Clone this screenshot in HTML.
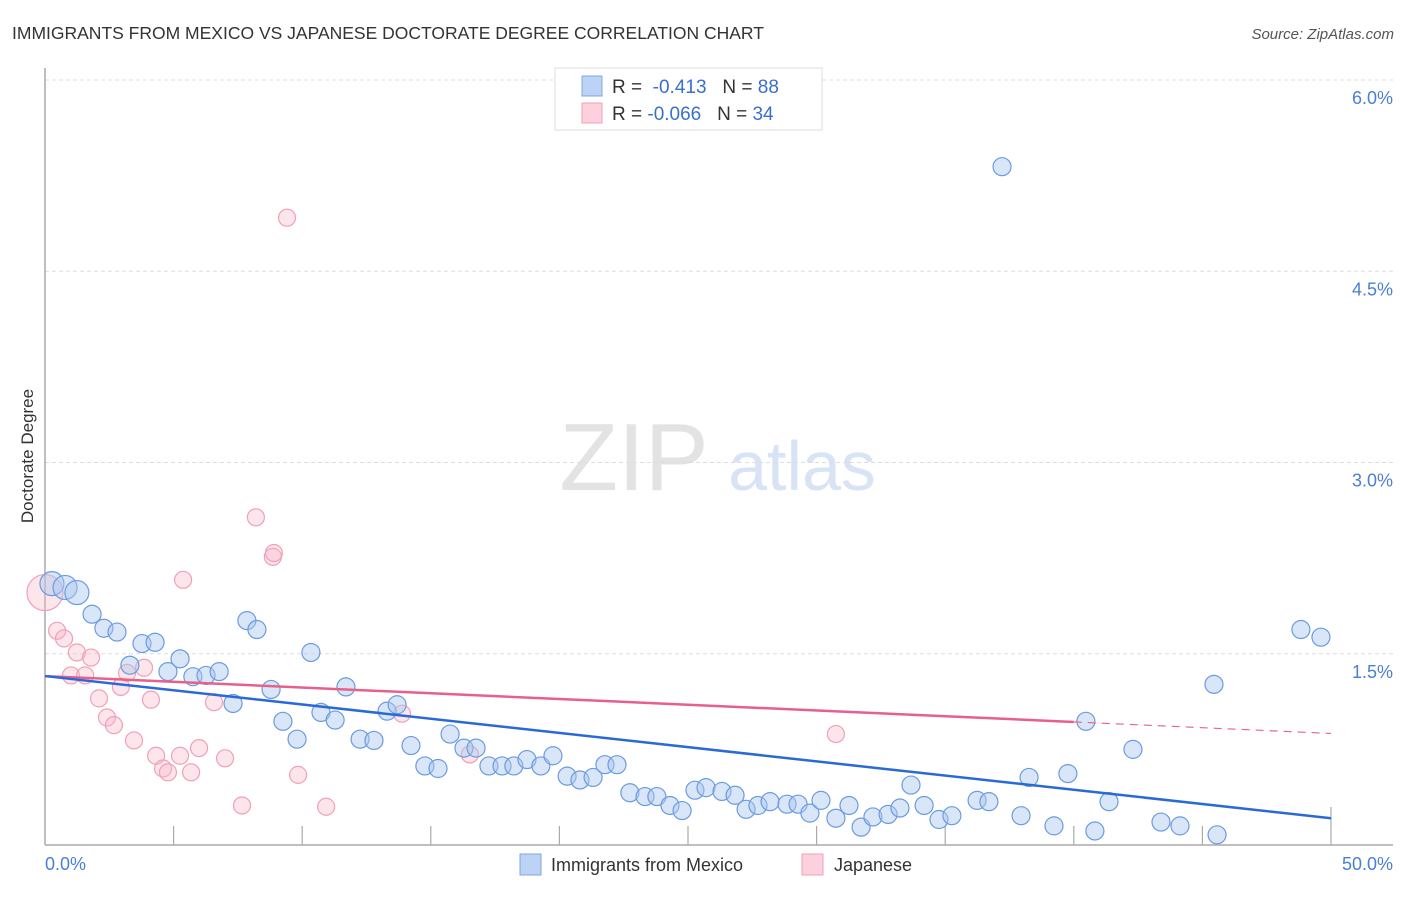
<!DOCTYPE html>
<html><head><meta charset="utf-8"><style>
body{margin:0;background:#fff;font-family:"Liberation Sans",sans-serif;}
svg text{font-family:"Liberation Sans",sans-serif;}
</style></head><body>
<svg id="chart" width="1406" height="892" xmlns="http://www.w3.org/2000/svg">
<text x="12" y="39" font-size="17.5" fill="#333">IMMIGRANTS FROM MEXICO VS JAPANESE DOCTORATE DEGREE CORRELATION CHART</text>
<text x="1394" y="39" font-size="15" fill="#555" font-style="italic" text-anchor="end">Source: ZipAtlas.com</text>
<g>
<text x="634" y="490" font-size="96" fill="#e3e3e3" font-family="Liberation Serif, serif" text-anchor="middle">ZIP</text>
<text x="802" y="490" font-size="70" fill="#d8e4f6" text-anchor="middle">atlas</text>
</g>
<g id="grid"></g>
<g id="axes"></g>
<g id="pink"></g>
<g id="blue"></g>
<g id="trends"></g>
<text transform="translate(33,456) rotate(-90)" font-size="17" fill="#333" text-anchor="middle">Doctorate Degree</text>
<g>
<rect x="555" y="68" width="267" height="62" fill="#fff" stroke="#ddd"/>
<rect x="582" y="76" width="20" height="20" fill="#bcd3f5" stroke="#7fa6e0"/>
<rect x="582" y="103" width="20" height="20" fill="#fcd0dc" stroke="#eea1b7"/>
<text x="612" y="93" font-size="19" fill="#333">R = <tspan fill="#3a6fd0">&#160;-0.413</tspan>&#160;&#160;&#160;N = <tspan fill="#3a6fd0">88</tspan></text>
<text x="612" y="120" font-size="19" fill="#333">R = <tspan fill="#3a6fd0">-0.066</tspan>&#160;&#160;&#160;N = <tspan fill="#3a6fd0">34</tspan></text>
</g>
<g>
<rect x="520" y="854" width="21" height="21" fill="#bcd3f5" stroke="#7fa6e0"/>
<text x="551" y="871" font-size="18" fill="#333">Immigrants from Mexico</text>
<rect x="802" y="854" width="21" height="21" fill="#fcd0dc" stroke="#eea1b7"/>
<text x="834" y="871" font-size="18" fill="#333">Japanese</text>
</g>
</svg>
<script>
const blueX=[0.27,0.78,1.24,1.83,2.29,2.80,3.77,4.28,3.30,4.78,5.25,5.75,6.26,6.77,7.31,7.85,8.24,8.79,9.25,9.80,10.34,10.73,11.28,11.70,12.25,12.79,13.30,13.69,14.23,14.77,15.28,15.75,16.29,16.76,17.26,17.77,18.23,18.74,19.28,19.75,20.30,20.80,21.31,21.77,22.24,22.74,23.33,23.79,24.30,24.77,25.27,25.70,26.32,26.83,27.26,27.72,28.19,28.85,29.28,29.74,30.17,30.75,31.26,31.73,32.19,32.78,33.24,33.67,34.18,34.76,35.26,36.24,36.70,37.21,37.95,38.26,39.23,39.77,40.47,40.82,41.37,42.30,43.39,44.13,45.45,45.57,48.83,49.61];
const blueY=[2.05,2.02,1.98,1.81,1.70,1.67,1.58,1.59,1.41,1.36,1.46,1.32,1.33,1.36,1.11,1.76,1.69,1.22,0.97,0.83,1.51,1.04,0.98,1.24,0.83,0.82,1.05,1.10,0.78,0.62,0.60,0.87,0.76,0.76,0.62,0.62,0.62,0.67,0.62,0.70,0.54,0.51,0.53,0.63,0.63,0.41,0.38,0.38,0.31,0.27,0.43,0.45,0.42,0.39,0.28,0.31,0.34,0.32,0.32,0.25,0.35,0.21,0.31,0.14,0.22,0.24,0.29,0.47,0.31,0.20,0.23,0.35,0.34,5.32,0.23,0.53,0.15,0.56,0.97,0.11,0.34,0.75,0.18,0.15,1.26,0.08,1.69,1.63];
const pinkX=[0.0,0.47,0.74,1.01,1.24,1.56,1.79,2.10,2.41,2.68,2.95,3.19,3.46,3.85,4.12,4.32,4.59,4.78,5.25,5.37,5.68,5.99,6.57,7.00,7.66,8.20,8.86,8.90,9.41,9.84,10.93,13.88,16.52,30.75];
const pinkY=[1.98,1.68,1.62,1.33,1.51,1.33,1.47,1.15,1.00,0.94,1.24,1.35,0.82,1.39,1.14,0.70,0.60,0.57,0.70,2.08,0.57,0.76,1.12,0.68,0.31,2.57,2.26,2.29,4.92,0.55,0.30,1.03,0.71,0.87];
const blueTrend=[1.325,0.21];   // value at 0% and 50%
const pinkTrend=[1.325,0.965];  // value at 0% and 40% (solid end)
const yTicks=[1.5,3.0,4.5,6.0];
const yTickLabels=["1.5%","3.0%","4.5%","6.0%"];
const xTicks=[5,10,15,20,25,30,35,40,45,50];
const xLabels=["0.0%","50.0%"];

const NS="http://www.w3.org/2000/svg";
const sx=v=>45+v*25.72;
const sy=v=>845-v*127.5;
function mk(tag,attrs,parent){const e=document.createElementNS(NS,tag);for(const k in attrs)e.setAttribute(k,attrs[k]);parent.appendChild(e);return e;}
const grid=document.getElementById('grid'),axes=document.getElementById('axes');
yTicks.forEach((t,i)=>{
  const l=mk('line',{x1:45,x2:1393,y1:sy(t),y2:sy(t),stroke:'#ddd','stroke-dasharray':'4,3'},grid);
  
  
  const tx=mk('text',{x:1393,y:sy(t)+24,'font-size':18,fill:'#4a7fd6','text-anchor':'end'},grid);
  tx.textContent=yTickLabels[i];
  
  
});
let a=mk('line',{x1:45,x2:45,y1:68,y2:845,stroke:'#aaa','stroke-width':1.5},axes);


a=mk('line',{x1:45,x2:1393,y1:845,y2:845,stroke:'#aaa','stroke-width':1.5},axes);


xTicks.forEach(t=>{
  const l=mk('line',{x1:sx(t),x2:sx(t),y1:t===50?807:826,y2:845,stroke:'#aaa','stroke-width':1.2},axes);
  
  
});
let xl=mk('text',{x:45,y:870,'font-size':18,fill:'#4a7fd6'},axes);xl.textContent=xLabels[0];


xl=mk('text',{x:1393,y:870,'font-size':18,fill:'#4a7fd6','text-anchor':'end'},axes);xl.textContent=xLabels[1];



const pg=document.getElementById('pink');
pinkX.forEach((x,i)=>{
  const c=mk('circle',{cx:sx(x),cy:sy(pinkY[i]),r:i===0?18:8.5,fill:'rgba(248,180,200,0.35)',stroke:'#f0a0b8','stroke-width':1.2},pg);
  
  
});
const bg=document.getElementById('blue');
blueX.forEach((x,i)=>{
  const c=mk('circle',{cx:sx(x),cy:sy(blueY[i]),r:i<3?12:9,fill:'rgba(170,200,240,0.45)',stroke:'#6b9be0','stroke-width':1.2},bg);
  
  
});
const tg=document.getElementById('trends');
let t=mk('line',{x1:sx(0),y1:sy(pinkTrend[0]),x2:sx(40),y2:sy(pinkTrend[1]),stroke:'#e8608a','stroke-width':2.5},tg);


const ps=(pinkTrend[1]-pinkTrend[0])/40;
t=mk('line',{x1:sx(40),y1:sy(pinkTrend[1]),x2:sx(50),y2:sy(pinkTrend[1]+ps*10),stroke:'#e8608a','stroke-width':1.2,'stroke-dasharray':'8,6'},tg);


t=mk('line',{x1:sx(0),y1:sy(blueTrend[0]),x2:sx(50),y2:sy(blueTrend[1]),stroke:'#2a6ad6','stroke-width':2.5},tg);


</script>
</body></html>
